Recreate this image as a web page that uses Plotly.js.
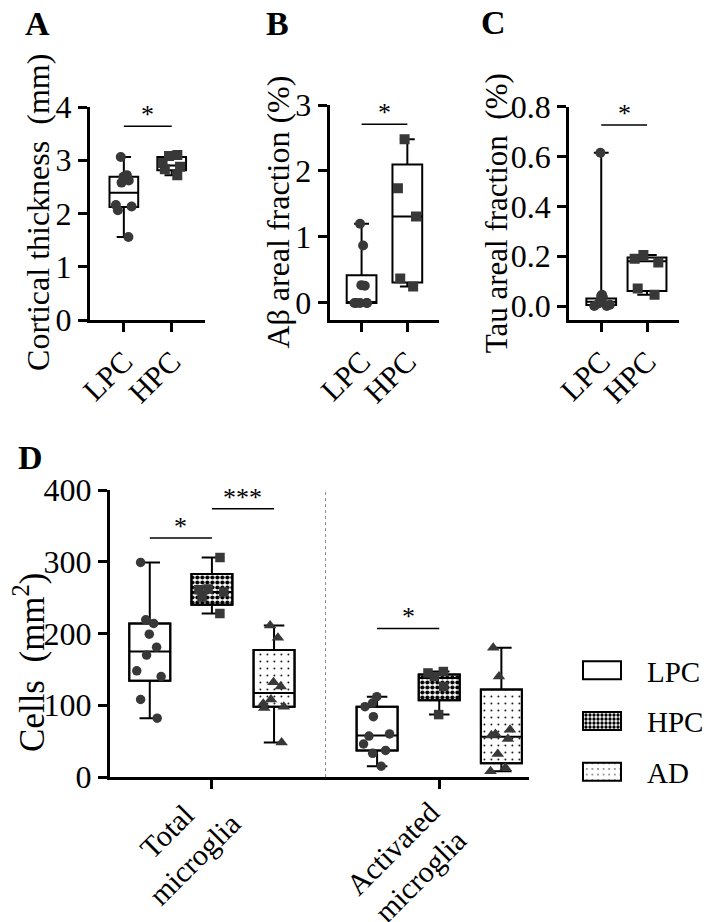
<!DOCTYPE html>
<html><head><meta charset="utf-8">
<script src="https://cdn.plot.ly/plotly-3.0.1.min.js"></script>
<style>html,body{margin:0;padding:0;background:#fff;} #chart{width:709px;height:922px;}</style>
</head><body><div id="chart"></div>
<script>
const W = 709, H = 922;

// ---------- data ----------
const groupsABC = ['LPC', 'HPC'];
// Panel A: Cortical thickness (mm)
const A_LPC = [3.06, 2.72, 2.69, 2.62, 2.58, 2.16, 2.13, 2.06, 1.56];
const A_HPC = [3.10, 3.08, 2.95, 2.88, 2.83, 2.72];
const A_q1 = [2.12, 2.81], A_med = [2.39, 2.90], A_q3 = [2.69, 3.06], A_min = [1.56, 2.72], A_max = [3.06, 3.10];
// Panel B: Abeta areal fraction (%)
const B_LPC = [1.20, 0.87, 0.27, 0.26, 0, 0, 0, 0, 0];
const B_HPC = [2.48, 1.74, 1.31, 0.37, 0.25];
const B_q1 = [0, 0.31], B_med = [0, 1.31], B_q3 = [0.42, 2.10], B_min = [0, 0.25], B_max = [1.20, 2.48];
// Panel C: Tau areal fraction (%)
const C_LPC = [0.615, 0.045, 0.04, 0.035, 0.02, 0.01, 0.005, 0, 0];
const C_HPC = [0.205, 0.19, 0.175, 0.07, 0.045];
const C_q1 = [0.004, 0.06], C_med = [0.017, 0.18], C_q3 = [0.03, 0.195], C_min = [0, 0.045], C_max = [0.615, 0.205];

// Panel D: Cells (mm^2)
const D_cats = ['Total microglia', 'Activated microglia'];
const D_groups = ['LPC', 'HPC', 'AD'];
const D_LPC_total = [299, 219, 214, 199, 181, 170, 148, 140, 108, 82];
const D_HPC_total = [306, 262, 261, 258, 251, 228];
const D_AD_total = [211, 194, 132, 126, 108, 102, 98, 96, 48];
const D_LPC_act = [112, 103, 98, 84, 60, 57, 46, 37, 33, 15];
const D_HPC_act = [147, 145, 140, 126, 87];
const D_AD_act = [180, 140, 66, 60, 58, 53, 32, 13, 8];
// box statistics [total, activated]
const D_LPC_q1 = [134, 37], D_LPC_med = [175, 58], D_LPC_q3 = [214, 98], D_LPC_min = [82, 15], D_LPC_max = [299, 112];
const D_HPC_q1 = [240, 107], D_HPC_med = [258, 138], D_HPC_q3 = [283, 143], D_HPC_min = [228, 87], D_HPC_max = [306, 147];
const D_AD_q1 = [98, 19], D_AD_med = [117, 56], D_AD_q3 = [177, 122], D_AD_min = [48, 8], D_AD_max = [211, 180];

// ---------- style ----------
const FONT = 'Liberation Serif';
const PT = '#383838';
const BOXGAP = 0.18, GROUPGAP = 0.34;
const GROUP_OFF = (1 - BOXGAP) / 3;

const traces = [];

function panelABC(ax, alig, ptsLPC, ptsHPC, q1, med, q3, mn, mx, widths) {
  const pts = [ptsLPC, ptsHPC];
  const syms = ['circle', 'square'];
  groupsABC.forEach((g, i) => {
    traces.push({
      type: 'box', xaxis: 'x' + ax, yaxis: 'y' + ax, x: [g],
      q1: [q1[i]], median: [med[i]], q3: [q3[i]], lowerfence: [mn[i]], upperfence: [mx[i]],
      width: widths[i], fillcolor: 'white', line: {color: 'black', width: 2},
      whiskerwidth: 0.5, boxpoints: false, alignmentgroup: alig, offsetgroup: 'g',
      showlegend: false, hoverinfo: 'skip'
    });
    traces.push({
      type: 'box', xaxis: 'x' + ax, yaxis: 'y' + ax, x: pts[i].map(() => g), y: pts[i],
      width: widths[i], fillcolor: 'rgba(0,0,0,0)', line: {color: 'rgba(0,0,0,0)', width: 0},
      boxpoints: 'all', jitter: 0.75, pointpos: 0,
      marker: {symbol: syms[i], size: 10, color: PT},
      alignmentgroup: alig, offsetgroup: 'g', showlegend: false, hoverinfo: 'y'
    });
  });
}
panelABC('', 'A', A_LPC, A_HPC, A_q1, A_med, A_q3, A_min, A_max, [0.6, 0.6]);
panelABC('2', 'B', B_LPC, B_HPC, B_q1, B_med, B_q3, B_min, B_max, [0.65, 0.65]);
panelABC('3', 'C', C_LPC, C_HPC, C_q1, C_med, C_q3, C_min, C_max, [0.65, 0.85]);

const D_pts = {
  LPC: [D_LPC_total, D_LPC_act], HPC: [D_HPC_total, D_HPC_act], AD: [D_AD_total, D_AD_act]
};
const D_stats = {
  LPC: [D_LPC_q1, D_LPC_med, D_LPC_q3, D_LPC_min, D_LPC_max],
  HPC: [D_HPC_q1, D_HPC_med, D_HPC_q3, D_HPC_min, D_HPC_max],
  AD: [D_AD_q1, D_AD_med, D_AD_q3, D_AD_min, D_AD_max]
};
const D_sym = {LPC: 'circle', HPC: 'square', AD: 'triangle-up'};
const D_pattern = {
  LPC: {shape: ''},
  HPC: {shape: '.', fgcolor: 'black', bgcolor: 'white', size: 5, solidity: 0.55, fillmode: 'replace'},
  AD: {shape: '.', fgcolor: 'black', bgcolor: 'white', size: 7, solidity: 0.05, fillmode: 'replace'}
};
// patterned fills (bars from q1 to q3) — also the legend entries
D_groups.forEach(g => {
  const [q1, , q3] = D_stats[g];
  traces.push({
    type: 'bar', xaxis: 'x4', yaxis: 'y4', x: D_cats, base: q1, y: q3.map((v, i) => v - q1[i]),
    name: g, legendgroup: g, offsetgroup: g, alignmentgroup: 'D',
    marker: {color: 'white', line: {color: 'black', width: 2}, pattern: D_pattern[g]},
    showlegend: true, hoverinfo: 'skip'
  });
});
D_groups.forEach(g => {
  const [q1, med, q3, mn, mx] = D_stats[g];
  traces.push({
    type: 'box', xaxis: 'x4', yaxis: 'y4', x: D_cats,
    q1: q1, median: med, q3: q3, lowerfence: mn, upperfence: mx,
    fillcolor: 'rgba(0,0,0,0)', line: {color: 'black', width: 2}, whiskerwidth: 0.5,
    boxpoints: false, offsetgroup: g, alignmentgroup: 'D', showlegend: false, hoverinfo: 'skip'
  });
});
D_groups.forEach(g => {
  const xs = [], ys = [];
  D_pts[g].forEach((arr, ci) => arr.forEach(v => { xs.push(D_cats[ci]); ys.push(v); }));
  traces.push({
    type: 'box', xaxis: 'x4', yaxis: 'y4', x: xs, y: ys,
    fillcolor: 'rgba(0,0,0,0)', line: {color: 'rgba(0,0,0,0)', width: 0},
    boxpoints: 'all', jitter: 0.75, pointpos: 0,
    marker: {symbol: D_sym[g], size: g === 'AD' ? 11 : 9.5, color: PT},
    offsetgroup: g, alignmentgroup: 'D', showlegend: false, hoverinfo: 'y'
  });
});

// ---------- layout ----------
const px = v => v / W;
const py = v => 1 - v / H;
const axBase = {
  showline: true, linecolor: 'black', linewidth: 3, ticks: 'outside', ticklen: 9, tickwidth: 3,
  tickcolor: 'black', showgrid: false, zeroline: false, fixedrange: true,
  tickfont: {family: FONT, size: 32, color: 'black'}
};
function xa(d0, d1, anchor, range, extra) {
  return Object.assign({}, axBase, {domain: [px(d0), px(d1)], anchor: anchor, type: 'category', range: range, tickangle: -45,
    tickfont: {family: FONT, size: 30, color: 'black'}}, extra || {});
}
function ya(top, bottom, anchor, range, extra) {
  return Object.assign({}, axBase, {domain: [py(bottom), py(top)], anchor: anchor, range: range}, extra || {});
}

const sig = (ax, x0, x1, y) => ({type: 'line', xref: 'x' + ax, yref: 'y' + ax, x0: x0, x1: x1, y0: y, y1: y, line: {color: 'black', width: 1.5}});
const star = (ax, x, y, t) => ({xref: 'x' + ax, yref: 'y' + ax, x: x, y: y, text: t, showarrow: false, yanchor: 'bottom', xanchor: 'center', yshift: -5, font: {family: FONT, size: 26, color: 'black'}});
const txt = (x, y, t, size, extra) => Object.assign({xref: 'paper', yref: 'paper', x: px(x), y: py(y), text: t, showarrow: false, xanchor: 'center', yanchor: 'middle', font: {family: FONT, size: size, color: 'black'}}, extra || {});

const layout = {
  width: W, height: H, margin: {l: 0, r: 0, t: 0, b: 0},
  paper_bgcolor: 'white', plot_bgcolor: 'rgba(0,0,0,0)',
  font: {family: FONT, size: 28, color: 'black'},
  boxmode: 'group', boxgap: BOXGAP, boxgroupgap: GROUPGAP,
  barmode: 'group', bargap: BOXGAP, bargroupgap: GROUPGAP,
  showlegend: true,
  legend: {x: px(578), y: py(645), xanchor: 'left', yanchor: 'top', font: {family: FONT, size: 29, color: 'black'},
           bgcolor: 'rgba(0,0,0,0)', itemwidth: 60, traceorder: 'grouped', tracegroupgap: 10,
           itemclick: false, itemdoubleclick: false},
  xaxis: xa(90, 205, 'y', [-0.71, 1.69]),
  yaxis: ya(107, 320, 'x', [0, 4], {dtick: 1}),
  xaxis2: xa(330, 440, 'y2', [-0.7, 1.7]),
  yaxis2: ya(105, 320, 'x2', [-0.258, 3], {dtick: 1}),
  xaxis3: xa(570, 680, 'y3', [-0.7, 1.7]),
  yaxis3: ya(106.7, 320, 'x3', [-0.056, 0.8], {dtick: 0.2, tickformat: '.1f'}),
  xaxis4: xa(110, 530, 'y4', [-0.449, 1.396], {showticklabels: false, tickangle: 0}),
  yaxis4: ya(490, 777, 'x4', [0, 400], {dtick: 100}),
  shapes: [
    sig('', 0, 1, 3.64),
    sig('2', 0, 1, 2.71),
    sig('3', 0, 1, 0.727),
    sig('4', 0 - GROUP_OFF, 0, 333),
    sig('4', 0, 0 + GROUP_OFF, 374),
    sig('4', 1 - GROUP_OFF, 1, 207),
    {type: 'line', xref: 'x4', yref: 'y4', x0: 0.5, x1: 0.5, y0: 0, y1: 400, line: {color: '#8c8c8c', width: 1, dash: 'dot'}}
  ],
  annotations: [
    star('', 0.5, 3.64, '*'),
    star('2', 0.5, 2.71, '*'),
    star('3', 0.5, 0.727, '*'),
    star('4', -GROUP_OFF / 2, 333, '*'),
    star('4', GROUP_OFF / 2, 374, '***'),
    star('4', 1 - GROUP_OFF / 2, 207, '*'),
    txt(38, 24, '<b>A</b>', 34),
    txt(278, 24, '<b>B</b>', 34),
    txt(494, 22, '<b>C</b>', 34),
    txt(31, 457, '<b>D</b>', 34),
    txt(38, 212, 'Cortical thickness  (mm)', 32, {textangle: -90}),
    txt(278, 212, 'Aβ areal fraction (%)', 32, {textangle: -90}),
    txt(497, 213, 'Tau areal fraction  (%)', 31, {textangle: -90}),
    txt(29, 662, 'Cells  (mm<sup>2</sup>)', 35, {textangle: -90}),
    txt(181, 845, 'Total<br>microglia', 30, {textangle: -45, align: 'center'}),
    txt(407, 862, 'Activated<br>microglia', 30, {textangle: -45, align: 'center'})
  ]
};

const SWATCH = 'M9,9H-29V-9H9Z';
function fixLegend() {
  document.querySelectorAll('#chart .legend .legendpoints path').forEach(p => {
    if (p.getAttribute('d') !== SWATCH) p.setAttribute('d', SWATCH);
  });
}
Plotly.newPlot('chart', traces, layout, {staticPlot: true, displayModeBar: false}).then(gd => {
  fixLegend();
  new MutationObserver(fixLegend).observe(gd, {subtree: true, childList: true, attributes: true, attributeFilter: ['d']});
  [50, 200, 400, 800, 1500].forEach(t => setTimeout(fixLegend, t));
});
</script>
</body></html>
